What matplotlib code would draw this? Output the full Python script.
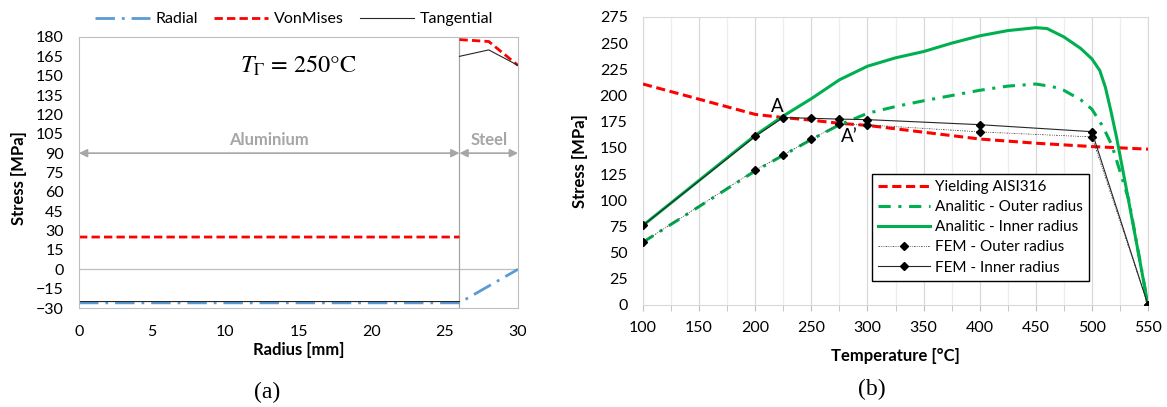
import numpy as np
import matplotlib
matplotlib.use('Agg')
import matplotlib.pyplot as plt

plt.rcParams['font.family'] = ['Lato', 'DejaVu Sans']
plt.rcParams['mathtext.fontset'] = 'stix'

# (a) stress vs radius at T = 250 C
radial_r = [0, 26, 30]
radial = [-26, -26, 0]
tang_r = [0, 26, np.nan, 26, 28, 30]
tangential = [-25, -25, np.nan, 165, 170, 158]
vm_r = [0, 26, np.nan, 26, 28, 30]
vonmises = [25, 25, np.nan, 178, 176.5, 158]
r_interface = 26

# (b) stress vs temperature
yield_T = [100, 150, 200, 225, 250, 275, 300, 350, 400, 450, 500, 550]
yield_s = [211, 196.5, 182, 179, 176.5, 173.5, 171.5, 165, 158.5, 154.5, 151.3, 148.8]

inner_T = [100, 150, 200, 225, 250, 275, 300, 325, 350, 375, 400, 425, 450, 460,
           475, 490, 500, 507, 512, 517, 522, 530, 540, 550]
inner_s = [76, 119, 162, 180.5, 197, 215, 228, 236, 242, 250, 257, 262, 264.8, 264,
           256, 245, 235, 224, 208, 185, 160, 115, 58, 0]

outer_T = [100, 150, 200, 225, 250, 275, 300, 325, 350, 375, 400, 425, 450, 465,
           475, 490, 500, 510, 518, 533, 550]
outer_s = [60, 94, 128, 143, 158, 172, 183, 189.5, 195, 200, 205, 209, 211, 208.5,
           205, 196, 187, 170, 152, 100, 0]

fem_T = [100, 200, 225, 250, 275, 300, 400, 500, 550]
fem_inner = [76, 161, 179, 178.3, 177.5, 177, 172.2, 165.5, 0]
fem_outer = [60, 128.8, 143.4, 158.3, 172.6, 172, 165.3, 160.5, 0]

W, H = 1167, 407
fig = plt.figure(figsize=(W / 100, H / 100), dpi=100)

def box(l, r, t, b):
    return [l / W, 1 - b / H, (r - l) / W, (b - t) / H]

grey = '#BFBFBF'
tick = 11.5
lab = 12

# ---------- (a)
ax1 = fig.add_axes(box(79, 518, 37, 308))
ax1.plot(radial_r, radial, color='#5B9BD5', lw=2, ls=(0, (7, 2.5, 1, 2.5)), label='Radial')
ax1.plot(vm_r, vonmises, color='#FF0000', lw=2, ls=(0, (3, 1.5)), label='VonMises')
ax1.plot(tang_r, tangential, color='#262626', lw=0.8, label='Tangential')
ax1.axhline(0, color=grey, lw=0.9, zorder=0)
ax1.axvline(r_interface, color='#A6A6A6', lw=0.9, zorder=0)
ax1.set_xlim(0, 30)
ax1.set_ylim(-30, 180)
ax1.set_xticks(range(0, 31, 5))
ax1.set_yticks(range(-30, 181, 15))
ax1.tick_params(length=0, labelsize=tick, colors='black')
ax1.tick_params(axis='y', pad=11)
ax1.tick_params(axis='x', pad=12)
for s in ax1.spines.values():
    s.set_color(grey)
ax1.set_xlabel('Radius [mm]', fontsize=lab, fontweight='bold')
ax1.set_ylabel('Stress [MPa]', fontsize=lab, fontweight='bold')
ax1.xaxis.set_label_coords(0.5, -0.125)
ax1.yaxis.set_label_coords(-0.118, 0.48)

arrow_c = '#A6A6A6'
for x0, x1, name in [(0, r_interface, 'Aluminium'), (r_interface, 30, 'Steel')]:
    ax1.annotate('', xy=(x0, 90), xytext=(x1, 90),
                 arrowprops=dict(arrowstyle='<|-|>', color=arrow_c, lw=1.2,
                                 mutation_scale=12, shrinkA=0, shrinkB=0))
    ax1.text((x0 + x1) / 2, 100, name, color=arrow_c, fontsize=lab,
             fontweight='bold', ha='center', va='center')
ax1.text(15, 158, r'$T_{\Gamma}$ = 250°C', family='STIXGeneral', fontsize=17.5,
         ha='center', va='center')
ax1.legend(loc='center', bbox_to_anchor=(0.49, 1.065), ncol=3, frameon=False,
           fontsize=tick, handlelength=3.4, handletextpad=0.35, columnspacing=1.0)

# ---------- (b)
ax2 = fig.add_axes(box(643, 1148, 17, 305))
ax2.plot(yield_T, yield_s, color='#FF0000', lw=2.2, ls=(0, (3, 1.5)),
         label='Yielding AISI316', zorder=3)
ax2.plot(outer_T, outer_s, color='#00B050', lw=2.2, ls=(0, (4, 2.5, 1, 2.5)),
         label='Analitic - Outer radius', zorder=3)
ax2.plot(inner_T, inner_s, color='#00B050', lw=2.2, label='Analitic - Inner radius',
         zorder=3)
ax2.plot(fem_T, fem_outer, color='#404040', lw=0.6, ls=(0, (2, 1.5, 1, 1.5, 1, 1.5)),
         marker='D', ms=4, mfc='black', mec='black', label='FEM - Outer radius', zorder=4)
ax2.plot(fem_T, fem_inner, color='#262626', lw=0.8, marker='D', ms=4, mfc='black',
         mec='black', label='FEM - Inner radius', zorder=4)
ax2.set_xlim(100, 550)
ax2.set_ylim(0, 275)
ax2.set_xticks(range(100, 551, 50))
ax2.set_xticks(range(125, 550, 50), minor=True)
ax2.set_yticks(range(0, 276, 25))
ax2.grid(axis='x', which='major', color='#D9D9D9', lw=0.9, zorder=0)
ax2.grid(axis='x', which='minor', color='#EDEDED', lw=0.9, zorder=0)
ax2.tick_params(axis='x', which='both', length=4.5, color='#BFBFBF', pad=7,
                labelsize=tick)
ax2.tick_params(axis='y', length=0, pad=11, labelsize=tick)
for s in ax2.spines.values():
    s.set_color('#D9D9D9')
ax2.set_xlabel('Temperature [°C]', fontsize=lab, fontweight='bold')
ax2.set_ylabel('Stress [MPa]', fontsize=lab, fontweight='bold')
ax2.xaxis.set_label_coords(0.5, -0.15)
ax2.yaxis.set_label_coords(-0.108, 0.5)
ax2.text(220, 190, 'A', fontsize=13.5, ha='center', va='center')
ax2.text(284, 161, 'A\u2019', fontsize=13.5, ha='center', va='center')
leg = ax2.legend(loc='upper left', bbox_to_anchor=(0.4535, 0.455), fontsize=11,
                 handlelength=3.4, handletextpad=0.35, labelspacing=0.4,
                 fancybox=False, framealpha=1, edgecolor='black',
                 borderpad=0.4, borderaxespad=0)
leg.get_frame().set_linewidth(1.0)
leg.set_zorder(10)

fig.text(267 / W, 1 - 392 / H, '(a)', family='Liberation Serif', fontsize=17,
         ha='center', va='center')
fig.text(872 / W, 1 - 389 / H, '(b)', family='Liberation Serif', fontsize=17,
         ha='center', va='center')

fig.savefig('out.png', dpi=100)
